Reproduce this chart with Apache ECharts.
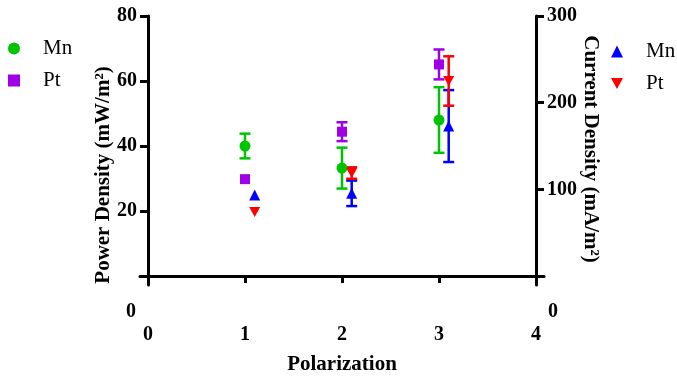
<!DOCTYPE html>
<html><head><meta charset="utf-8">
<script src="https://cdn.jsdelivr.net/npm/echarts@6/dist/echarts.min.js"></script>
<style>html,body{margin:0;padding:0;background:#fff}#c{width:677px;height:377px}</style>
</head><body><div id="c"></div>
<script>
// ---- data ----
const polarization = [1, 2, 3];
const currentX = [1.1, 2.1, 3.1];
const powerMn = [40.0, 33.2, 48.0];
const powerMnErr = [3.8, 6.3, 10.1];
const powerPt = [29.8, 44.4, 65.1];
const powerPtErr = [0, 2.9, 4.6];
const currentMn = [93.5, 95.4, 173];
const currentMnErr = [0, 14.7, 41.5];
const currentPt = [73.8, 118.8, 225];
const currentPtErr = [0, 6.6, 28.5];
const xTicks = [0, 1, 2, 3, 4];
const powerTicks = [0, 20, 40, 60, 80];
const currentTicks = [0, 100, 200, 300];

const FONT = '"Liberation Serif", "Times New Roman", serif';
const C_MN_P = '#00c400', C_PT_P = '#a000e6', C_MN_C = '#0000ff', C_PT_C = '#ff0000';

function pts(xs, ys, es) { return xs.map((x, i) => es ? [x, ys[i], es[i]] : [x, ys[i]]); }

function errRender(color) {
  return function (params, api) {
    const x = api.value(0), y = api.value(1), e = api.value(2);
    if (!e) return { type: 'group', children: [] };
    const t = api.coord([x, y + e]), b = api.coord([x, y - e]);
    const hw = 5.5;
    const st = { stroke: color, lineWidth: 2.5 };
    return { type: 'group', children: [
      { type: 'line', shape: { x1: t[0], y1: t[1], x2: b[0], y2: b[1] }, style: st },
      { type: 'line', shape: { x1: t[0] - hw, y1: t[1], x2: t[0] + hw, y2: t[1] }, style: st },
      { type: 'line', shape: { x1: b[0] - hw, y1: b[1], x2: b[0] + hw, y2: b[1] }, style: st }
    ]};
  };
}

const lab = { fontFamily: FONT, fontWeight: 'bold', fontSize: 20, color: '#000' };
const nm = { fontFamily: FONT, fontWeight: 'bold', fontSize: 21, color: '#000' };
const axLine = { show: true, lineStyle: { color: '#000', width: 3 } };
const hidden = { type: 'value', min: 0, max: 1, axisLine: { show: false }, axisTick: { show: false },
  axisLabel: { show: false }, splitLine: { show: false } };
const DOWN = 'path://M0,0 L10,0 L5,9 Z';
const legText = { fontFamily: FONT, fontSize: 21, color: '#000', padding: [0, 0, 0, 18] };

const chart = echarts.init(document.getElementById('c'), null, { renderer: 'canvas' });
chart.setOption({
  animation: false,
  backgroundColor: '#fff',
  grid: [
    { left: 148, right: 141, top: 16, bottom: 101, containLabel: false, outerBoundsMode: 'none' },
    { left: 140, right: 133, top: 16, bottom: 101, containLabel: false, outerBoundsMode: 'none' },
    { left: 148, right: 141, top: 16, bottom: 92, containLabel: false, outerBoundsMode: 'none' }
  ],
  legend: [
    { data: ['Mn', 'Pt'], orient: 'vertical', left: 3, top: 33, itemWidth: 12, itemHeight: 12, itemGap: 11,
      formatter: n => n.trim(), textStyle: legText },
    { data: ['Mn ', 'Pt '], orient: 'vertical', left: 606, top: 36, itemWidth: 12, itemHeight: 12, itemGap: 11,
      formatter: n => n.trim(), textStyle: legText }
  ],
  xAxis: [
    { gridIndex: 0, type: 'value', min: xTicks[0], max: xTicks[xTicks.length - 1], interval: 1,
      axisLine: { show: false }, splitLine: { show: false },
      axisTick: { show: true, length: 7, lineStyle: { color: '#000', width: 3 } },
      axisLabel: Object.assign({ margin: 49 }, lab),
      name: 'Polarization', nameLocation: 'middle', nameGap: 78, nameTextStyle: nm },
    Object.assign({ gridIndex: 1 }, hidden, { axisLine: axLine }),
    Object.assign({ gridIndex: 2 }, hidden)
  ],
  yAxis: [
    { gridIndex: 0, type: 'value', position: 'left', min: powerTicks[0], max: powerTicks[powerTicks.length - 1], interval: 20,
      axisLine: { show: false }, splitLine: { show: false },
      axisTick: { show: true, length: 8, lineStyle: { color: '#000', width: 3 } },
      axisLabel: Object.assign({ margin: 11, showMinLabel: false, formatter: v => v === 0 ? '' : String(v) }, lab),
      name: 'Power Density (mW/m²)', nameLocation: 'middle', nameGap: 34, nameMoveOverlap: false,
      nameTextStyle: Object.assign({ padding: [0, 58, 0, 0] }, nm) },
    { gridIndex: 0, type: 'value', position: 'right', min: currentTicks[0], max: currentTicks[currentTicks.length - 1], interval: 100,
      axisLine: { show: false }, splitLine: { show: false },
      axisTick: { show: true, length: 8, lineStyle: { color: '#000', width: 3 } },
      axisLabel: Object.assign({ margin: 11, showMinLabel: false, formatter: v => v === 0 ? '' : String(v) }, lab),
      name: 'Current Density (mA/m²)', nameLocation: 'middle', nameGap: 44, nameRotate: -90, nameMoveOverlap: false,
      nameTextStyle: Object.assign({ padding: [0, 0, 0, 6] }, nm) },
    Object.assign({ gridIndex: 1 }, hidden),
    Object.assign({ gridIndex: 2 }, hidden, { position: 'left', axisLine: axLine }),
    Object.assign({ gridIndex: 2 }, hidden, { position: 'right', axisLine: axLine })
  ],
  graphic: [
    { type: 'text', left: 126, top: 302, style: { text: String(powerTicks[0]), font: 'bold 20px "Liberation Serif"', fill: '#000' } },
    { type: 'text', left: 548, top: 302, style: { text: String(currentTicks[0]), font: 'bold 20px "Liberation Serif"', fill: '#000' } }
  ],
  series: [
    { type: 'custom', name: 'errPowerMn', xAxisIndex: 0, yAxisIndex: 0, renderItem: errRender(C_MN_P), data: pts(polarization, powerMn, powerMnErr), z: 2 },
    { type: 'custom', name: 'errPowerPt', xAxisIndex: 0, yAxisIndex: 0, renderItem: errRender(C_PT_P), data: pts(polarization, powerPt, powerPtErr), z: 2 },
    { type: 'custom', name: 'errCurMn', xAxisIndex: 0, yAxisIndex: 1, renderItem: errRender(C_MN_C), data: pts(currentX, currentMn, currentMnErr), z: 2 },
    { type: 'custom', name: 'errCurPt', xAxisIndex: 0, yAxisIndex: 1, renderItem: errRender(C_PT_C), data: pts(currentX, currentPt, currentPtErr), z: 3 },
    { type: 'scatter', name: 'Mn', xAxisIndex: 0, yAxisIndex: 0, symbol: 'circle', symbolSize: 11,
      itemStyle: { color: C_MN_P, opacity: 1 }, data: pts(polarization, powerMn), z: 5 },
    { type: 'scatter', name: 'Pt', xAxisIndex: 0, yAxisIndex: 0, symbol: 'rect', symbolSize: 10,
      itemStyle: { color: C_PT_P, opacity: 1 }, data: pts(polarization, powerPt), z: 5 },
    { type: 'scatter', name: 'Mn ', xAxisIndex: 0, yAxisIndex: 1, symbol: 'triangle', symbolSize: 11,
      itemStyle: { color: C_MN_C, opacity: 1 }, data: pts(currentX, currentMn), z: 5 },
    { type: 'scatter', name: 'Pt ', xAxisIndex: 0, yAxisIndex: 1, symbol: DOWN, symbolSize: [11, 10],
      itemStyle: { color: C_PT_C, opacity: 1 }, data: pts(currentX, currentPt), z: 6 }
  ]
});
</script></body></html>
